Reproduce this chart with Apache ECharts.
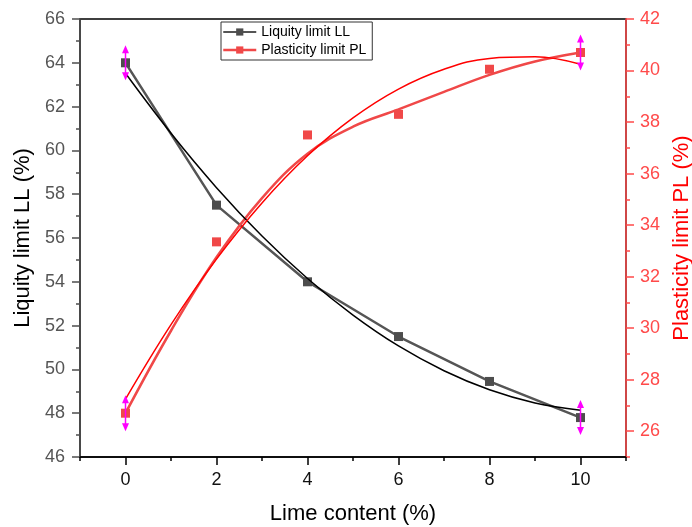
<!DOCTYPE html>
<html><head><meta charset="utf-8">
<script src="https://cdn.jsdelivr.net/npm/echarts@6/dist/echarts.min.js"></script>
<style>html,body{margin:0;padding:0;background:#fff}#c{width:692px;height:527px}</style>
</head><body><div id="c"></div>
<script>
// ---- data ----
const lime = [0, 2, 4, 6, 8, 10];
const liquidLimit = [64.0, 57.5, 54.0, 51.5, 49.45, 47.8];
const plasticLimit = [26.7, 33.35, 37.5, 38.3, 40.05, 40.7];
// error bars (shown only at 0 % and 10 %)
const errX = [0, 10];
const llErr = [0.8, 0.8];
const plErr = [0.7, 0.7];
// curves at every 1 % lime
const curveX = [0, 1, 2, 3, 4, 5, 6, 7, 8, 9, 10];
const llFit = [63.52, 60.78, 58.30, 56.09, 54.15, 52.48, 51.07, 49.94, 49.07, 48.47, 48.14];
const plFit = [27.25, 30.14, 32.68, 34.86, 36.69, 38.16, 39.28, 40.05, 40.47, 40.53, 40.24];
const plCurve = [26.70, 29.90, 32.75, 35.05, 36.77, 37.82, 38.49, 39.17, 39.83, 40.35, 40.70];
// tick labels
const xTicks = [0, 2, 4, 6, 8, 10];
const rightTicks = [26, 28, 30, 32, 34, 36, 38, 40, 42];

const FONT = 'Liberation Sans, Arial, sans-serif';
const GRAY = '#4d4d4d';
const RED = '#f04848';
const MAG = '#ff00ff';

function pairs(xs, ys) { return xs.map((x, i) => [x, ys[i]]); }
function errData(vals, errs) {
  return errX.map((x, k) => { const v = vals[lime.indexOf(x)]; return [x, v - errs[k], v + errs[k]]; });
}
function errRender(params, api) {
  const x = api.value(0);
  const top = api.coord([x, api.value(2)]);
  const bot = api.coord([x, api.value(1)]);
  const h = 8, w = 3.5;
  return { type: 'group', children: [
    { type: 'line', shape: { x1: top[0], y1: top[1] + h - 1, x2: bot[0], y2: bot[1] - h + 1 }, style: { stroke: MAG, lineWidth: 1.5 } },
    { type: 'polygon', shape: { points: [[top[0], top[1]], [top[0] - w, top[1] + h], [top[0] + w, top[1] + h]] }, style: { fill: MAG } },
    { type: 'polygon', shape: { points: [[bot[0], bot[1]], [bot[0] - w, bot[1] - h], [bot[0] + w, bot[1] - h]] }, style: { fill: MAG } }
  ] };
}

const chart = echarts.init(document.getElementById('c'), null, { renderer: 'canvas' });
chart.setOption({
  animation: false,
  textStyle: { fontFamily: FONT },
  grid: { left: 80, right: 66, top: 19, bottom: 70, containLabel: false, outerBoundsMode: 'none',
          show: true, borderColor: '#000', borderWidth: 1.5 },
  legend: {
    orient: 'vertical', left: 221, top: 22,
    borderColor: '#333', borderWidth: 1, padding: [3, 6, 3, 1],
    itemWidth: 33, itemHeight: 9, itemGap: 4,
    textStyle: { fontSize: 14, color: '#000', fontFamily: FONT },
    data: [
      { name: 'Liquity limit LL' },
      { name: 'Plasticity limit PL', lineStyle: { opacity: 1, width: 2.5, color: RED } }
    ]
  },
  xAxis: [
    { type: 'value', min: -1, max: 11, interval: 1, position: 'bottom',
      axisLine: { onZero: false, lineStyle: { color: '#000', width: 1.5 } },
      axisTick: { customValues: xTicks, length: 8, lineStyle: { color: '#000', width: 1.5 } },
      axisLabel: { customValues: xTicks, margin: 14, fontSize: 18, color: '#111', fontFamily: FONT },
      splitLine: { show: false },
      name: 'Lime content (%)', nameLocation: 'middle', nameGap: 46,
      nameTextStyle: { fontSize: 22, color: '#000', fontFamily: FONT } },
    { type: 'value', min: -1, max: 11, interval: 1, position: 'bottom',
      axisLine: { show: false, onZero: false },
      axisTick: { length: 4, lineStyle: { color: '#000', width: 1.5 } },
      axisLabel: { show: false }, splitLine: { show: false } }
  ],
  yAxis: [
    { type: 'value', min: 46, max: 66, interval: 2, position: 'left',
      axisLine: { show: true, onZero: false, lineStyle: { color: GRAY, width: 1.5 } },
      axisTick: { show: true, length: 8, lineStyle: { color: GRAY, width: 1.5 } },
      minorTick: { show: true, splitNumber: 2, length: 4, lineStyle: { color: GRAY, width: 1.5 } },
      axisLabel: { margin: 15, fontSize: 18, color: '#555', fontFamily: FONT },
      splitLine: { show: false },
      name: 'Liquity limit LL (%)', nameLocation: 'middle', nameGap: 45,
      nameTextStyle: { fontSize: 22, color: '#000', fontFamily: FONT } },
    { type: 'value', min: 25, max: 42, interval: 1, position: 'right',
      axisLine: { show: true, onZero: false, lineStyle: { color: '#ff4a4a', width: 1.5 } },
      axisTick: { show: true, customValues: rightTicks, length: 8, lineStyle: { color: '#ff4a4a', width: 1.5 } },
      axisLabel: { customValues: rightTicks, margin: 14, fontSize: 18, color: '#ff4a4a', fontFamily: FONT },
      splitLine: { show: false },
      name: 'Plasticity limit PL (%)', nameLocation: 'middle', nameGap: 40,
      nameTextStyle: { fontSize: 22, color: '#ff0000', fontFamily: FONT } },
    { type: 'value', min: 25, max: 42, interval: 1, position: 'right',
      axisLine: { show: false, onZero: false },
      axisTick: { show: true, length: 4, lineStyle: { color: '#ff4a4a', width: 1.5 } },
      axisLabel: { show: false }, splitLine: { show: false } }
  ],
  series: [
    { name: 'Liquity limit LL', type: 'line', xAxisIndex: 0, yAxisIndex: 0,
      data: pairs(lime, liquidLimit), symbol: 'rect', symbolSize: 9,
      itemStyle: { color: GRAY }, lineStyle: { color: '#555', width: 2.5 }, z: 3 },
    { name: 'LL fit', type: 'line', xAxisIndex: 0, yAxisIndex: 0,
      data: pairs(curveX, llFit), smooth: 0.4, showSymbol: false, symbol: 'none',
      lineStyle: { color: '#000', width: 1.5 }, z: 4 },
    { name: 'PL curve', type: 'line', xAxisIndex: 0, yAxisIndex: 1,
      data: pairs(curveX, plCurve), smooth: 0.4, showSymbol: false, symbol: 'none',
      lineStyle: { color: RED, width: 2.5 }, z: 3 },
    { name: 'Plasticity limit PL', type: 'line', xAxisIndex: 0, yAxisIndex: 1,
      data: pairs(lime, plasticLimit), symbol: 'rect', symbolSize: 9,
      itemStyle: { color: RED }, lineStyle: { color: RED, width: 2.5, opacity: 0 }, z: 3 },
    { name: 'PL fit', type: 'line', xAxisIndex: 0, yAxisIndex: 1,
      data: pairs(curveX, plFit), smooth: 0.4, showSymbol: false, symbol: 'none',
      lineStyle: { color: '#ff0000', width: 1.5 }, z: 4 },
    { name: 'LL error', type: 'custom', xAxisIndex: 0, yAxisIndex: 0,
      data: errData(liquidLimit, llErr), renderItem: errRender, z: 10 },
    { name: 'PL error', type: 'custom', xAxisIndex: 0, yAxisIndex: 1,
      data: errData(plasticLimit, plErr), renderItem: errRender, z: 10 }
  ]
});
</script>
</body></html>
